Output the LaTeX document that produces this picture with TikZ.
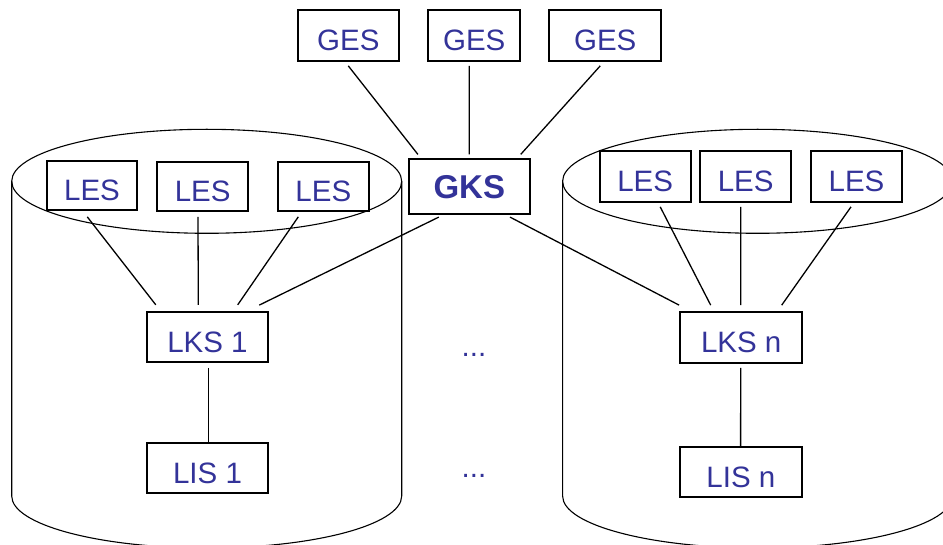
\documentclass[tikz,border=0pt]{standalone}
\usepackage{fontspec}
\setmainfont{Liberation Sans}
\definecolor{txtblue}{RGB}{51,51,153}
\begin{document}
\begin{tikzpicture}[x=1pt,y=-1pt,
  box/.style={draw=black, line width=1.8pt, fill=white, inner sep=0pt, text=txtblue,
    font=\fontsize{29.5}{30}\selectfont, text height=30pt, text depth=0pt},
  boldbox/.style={box, font=\fontsize{33}{34}\selectfont\bfseries, text height=23.6pt},
  conn/.style={draw=black, line width=1.3pt},
  cyl/.style={draw=black, line width=1.1pt},
  dots/.style={inner sep=0pt, anchor=base, text=txtblue, font=\fontsize{29.5}{30}\selectfont}]
\useasboundingbox (0,0) rectangle (943,545);
\clip (0,0) rectangle (943,545);
% cylinders
\draw[cyl] (206.7,181.3) ellipse [x radius=195, y radius=52];
\draw[cyl] (11.7,181.3) -- (11.7,496) arc[start angle=180, end angle=0, x radius=195, y radius=52] -- (401.7,181.3);
\draw[cyl] (757.6,181.3) ellipse [x radius=195, y radius=52];
\draw[cyl] (562.6,181.3) -- (562.6,496) arc[start angle=180, end angle=0, x radius=195, y radius=52] -- (952.6,181.3);
% nodes
\node[box, minimum width=101.3pt, minimum height=51pt] (ges1) at (348.3,35.5) {GES};
\node[box, minimum width=91.7pt, minimum height=51pt] (ges2) at (474.2,35.5) {GES};
\node[box, minimum width=111.7pt, minimum height=51pt] (ges3) at (605.2,35.5) {GES};
\node[boldbox, minimum width=121pt, minimum height=54.4pt] (gks) at (469.3,186.5) {GKS};
\node[box, minimum width=90.6pt, minimum height=49.6pt] (les1) at (92,185.5) {LES};
\node[box, minimum width=91.3pt, minimum height=49.6pt] (les2) at (202.7,186.5) {LES};
\node[box, minimum width=91.3pt, minimum height=49.3pt] (les3) at (323.3,186.3) {LES};
\node[box, minimum width=91pt, minimum height=50.7pt] (les4) at (645.2,176.3) {LES};
\node[box, minimum width=91.3pt, minimum height=50.7pt] (les5) at (745.7,176.3) {LES};
\node[box, minimum width=91pt, minimum height=50.7pt] (les6) at (856.5,176.3) {LES};
\node[box, minimum width=121.6pt, minimum height=50.3pt] (lks1) at (207.5,337.2) {LKS 1};
\node[box, minimum width=121.6pt, minimum height=50pt] (lis1) at (207.5,468.3) {LIS 1};
\node[box, minimum width=122.3pt, minimum height=50.7pt] (lksn) at (741.2,337.4) {LKS n};
\node[box, minimum width=121.7pt, minimum height=50pt] (lisn) at (740.9,472.3) {LIS n};
\node[dots] (dots1) at (474,357) {...};
\node[dots] (dots2) at (474,477) {...};
% connectors
\draw[conn] ([shift={(0,4)}]ges1.south) -- ([shift={(10,-4)}]gks.north west);
\draw[conn] ([shift={(-5,4)}]ges2.south) -- ([shift={(0,-4)}]gks.north);
\draw[conn] ([shift={(-5,4)}]ges3.south) -- ([shift={(-10,-4)}]gks.north east);
\draw[conn] ([shift={(-30.5,2.5)}]gks.south) -- ([shift={(-10,-6)}]lks1.north east);
\draw[conn] ([shift={(40.7,2.5)}]gks.south) -- ([shift={(0,-6)}]lksn.north west);
\draw[conn] ([shift={(-4.7,5.7)}]les1.south) -- ([shift={(10,-6.3)}]lks1.north west);
\draw[conn] ([shift={(-4.7,4.7)}]les2.south) -- ([shift={(-9.2,-6.3)}]lks1.north);
\draw[conn] ([shift={(-25,5)}]les3.south) -- ([shift={(30.2,-6.3)}]lks1.north);
\draw[conn] ([shift={(15,4.3)}]les4.south) -- ([shift={(-30.5,-6)}]lksn.north);
\draw[conn] ([shift={(-4.9,4.3)}]les5.south) -- ([shift={(-0.5,-6)}]lksn.north);
\draw[conn] ([shift={(-5.5,4.3)}]les6.south) -- ([shift={(40.5,-6)}]lksn.north);
\draw[conn] ([shift={(0.8,4.7)}]lks1.south) -- ([shift={(0.8,0)}]lis1.north);
\draw[conn] ([shift={(-0.5,4.3)}]lksn.south) -- ([shift={(-0.3,0)}]lisn.north);
\end{tikzpicture}
\end{document}
